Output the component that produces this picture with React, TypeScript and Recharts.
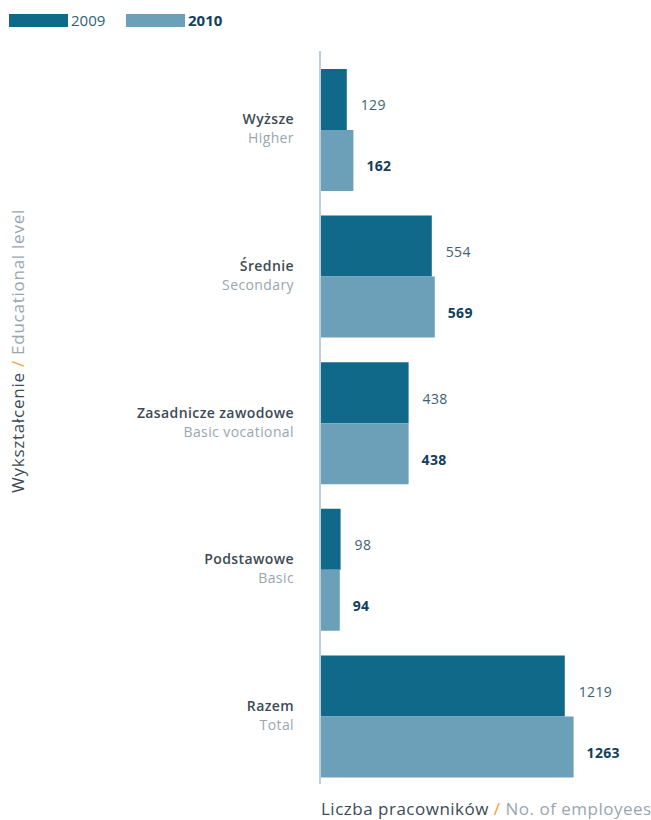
import { BarChart, Bar, XAxis, YAxis, LabelList } from "recharts";

const categoriesPl = ["Wyższe", "Średnie", "Zasadnicze zawodowe", "Podstawowe", "Razem"];
const categoriesEn = ["Higher", "Secondary", "Basic vocational", "Basic", "Total"];
const values2009 = [129, 554, 438, 98, 1219];
const values2010 = [162, 569, 438, 94, 1263];

const FONT = "'Open Sans', Roboto, sans-serif";
const DARK = "#11698a";
const LIGHT = "#6c9fb8";

const data = categoriesPl.map((pl, i) => ({
  pl,
  en: categoriesEn[i],
  y2009: values2009[i],
  y2010: values2010[i],
}));

const CategoryTick = (props: any) => {
  const { y, payload, index } = props;
  return (
    <g>
      <text x={294} y={y - 6} textAnchor="end" fontFamily={FONT} fontSize={14} fontWeight={600} letterSpacing={0.4} fill="#3d4a55">
        {payload.value}
      </text>
      <text x={294} y={y + 13} textAnchor="end" fontFamily={FONT} fontSize={14} letterSpacing={0.4} fill="#9aa6ae">
        {categoriesEn[index]}
      </text>
    </g>
  );
};

export default function App() {
  return (
    <div style={{ position: "absolute", left: 0, top: 0, width: 651, height: 820 }}>
      <div
        style={{
          position: "absolute",
          left: 9,
          top: 10,
          display: "flex",
          alignItems: "center",
          fontFamily: FONT,
          fontSize: 15,
        }}
      >
        <span style={{ display: "inline-block", width: 59, height: 13, background: DARK }} />
        <span style={{ marginLeft: 3, color: "#2b5f7a", width: 55 }}>2009</span>
        <span style={{ display: "inline-block", width: 59, height: 13, background: LIGHT }} />
        <span style={{ marginLeft: 3, color: "#123f5a", fontWeight: 700 }}>2010</span>
      </div>
      <BarChart
        width={651}
        height={820}
        data={data}
        layout="vertical"
        barGap={0}
        barCategoryGap={12}
        margin={{ top: 57, right: 0, bottom: 30, left: 0 }}
      >
        <XAxis type="number" domain={[0, 1650]} hide />
        <YAxis
          type="category"
          dataKey="pl"
          width={321}
          axisLine={false}
          tickLine={false}
          tick={<CategoryTick />}
          interval={0}
        />
        <Bar dataKey="y2009" fill={DARK} isAnimationActive={false}>
          <LabelList
            dataKey="y2009"
            position="right"
            offset={14}
            dy={6}
            fontFamily={FONT}
            fontSize={14}
            letterSpacing={0.3}
            fill="#3b5f73"
          />
        </Bar>
        <Bar dataKey="y2010" fill={LIGHT} isAnimationActive={false}>
          <LabelList
            dataKey="y2010"
            position="right"
            offset={13}
            dy={6}
            fontFamily={FONT}
            fontSize={14}
            fontWeight={700}
            letterSpacing={0.3}
            fill="#123f5a"
          />
        </Bar>
      </BarChart>
      <div style={{ position: "absolute", left: 319, top: 51, width: 2, height: 733, background: "#b9d0dc" }} />
      <div
        style={{
          position: "absolute",
          left: 321,
          top: 797,
          fontFamily: FONT,
          fontSize: 17,
          letterSpacing: 0.5,
          whiteSpace: "nowrap",
          color: "#3d4a55",
        }}
      >
        Liczba pracowników <span style={{ color: "#f0a030" }}>/</span>{" "}
        <span style={{ color: "#9aa6ae" }}>No. of employees</span>
      </div>
      <div
        style={{
          position: "absolute",
          left: 17,
          top: 351,
          transform: "translate(-50%, -50%) rotate(-90deg)",
          fontFamily: FONT,
          fontSize: 17,
          letterSpacing: 0.75,
          whiteSpace: "nowrap",
          color: "#3d4a55",
        }}
      >
        Wykształcenie <span style={{ color: "#f0a030" }}>/</span>{" "}
        <span style={{ color: "#9aa6ae" }}>Educational level</span>
      </div>
    </div>
  );
}
